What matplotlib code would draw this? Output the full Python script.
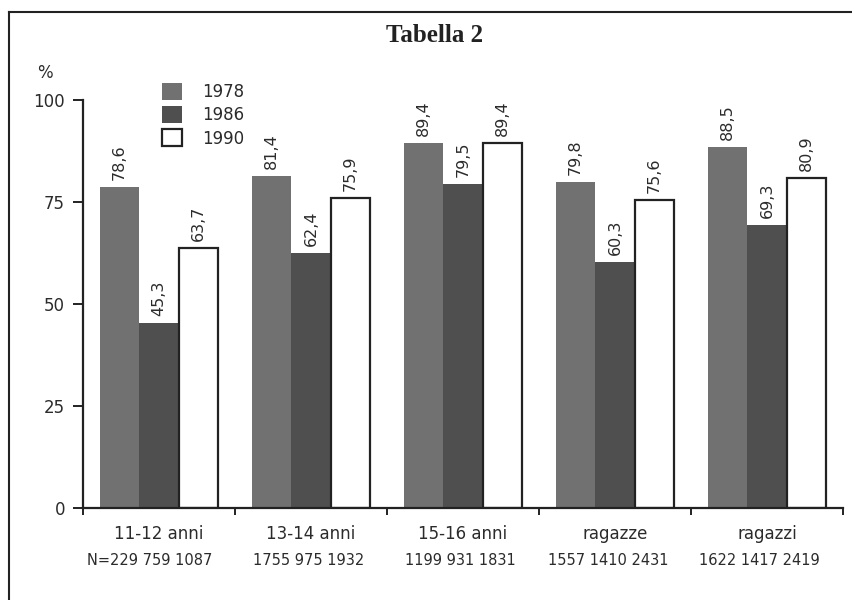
import matplotlib.pyplot as plt
import numpy as np
from matplotlib.lines import Line2D

categorie = ['11-12 anni', '13-14 anni', '15-16 anni', 'ragazze', 'ragazzi']
anni = ['1978', '1986', '1990']
v1978 = [78.6, 81.4, 89.4, 79.8, 88.5]
v1986 = [45.3, 62.4, 79.5, 60.3, 69.3]
v1990 = [63.7, 75.9, 89.4, 75.6, 80.9]
numerosita = ['N=229 759 1087', '1755 975 1932', '1199 931 1831',
              '1557 1410 2431', '1622 1417 2419']
yticks = [0, 25, 50, 75, 100]

colori = ['#717171', '#4f4f4f', 'white']
testo = '#2b2b2b'
font = 'DejaVu Sans'

fig = plt.figure(figsize=(8.52, 6), dpi=100)
ax = fig.add_axes([83/852, 1-508/600, 760/852, 408/600])

x = np.arange(len(categorie))
w = 0.26
serie = [v1978, v1986, v1990]
barre = []
for i, (vals, c) in enumerate(zip(serie, colori)):
    b = ax.bar(x + (i-1)*w, vals, w, color=c, edgecolor='#222222' if c == 'white' else c,
               linewidth=1.6 if c == 'white' else 0, label=anni[i])
    barre.append(b)
    for xi, v in zip(x + (i-1)*w, vals):
        ax.annotate(f'{v:.1f}'.replace('.', ','), (xi, v), xytext=(0, 5),
                    textcoords='offset points', rotation=90, ha='center', va='bottom',
                    fontsize=11.5, color=testo, family=font)

ax.set_xlim(-0.5, len(categorie) - 0.5)
ax.set_ylim(0, 100)
ax.set_yticks(yticks)
ax.set_yticklabels([str(t) for t in yticks], fontsize=12, color=testo, family=font)
ax.set_xticks(np.arange(len(categorie) + 1) - 0.5)
ax.set_xticklabels([])
ax.set_xticks(x, minor=True)
ax.set_xticklabels(categorie, minor=True, fontsize=12, color=testo, family=font)
ax.tick_params(axis='x', which='minor', length=0, pad=12)
ax.tick_params(axis='x', which='major', length=5, width=1.4, color='#222222')
ax.tick_params(axis='y', length=7, width=1.4, color='#222222', pad=6)
for s in ['top', 'right']:
    ax.spines[s].set_visible(False)
for s in ['left', 'bottom']:
    ax.spines[s].set_linewidth(1.6)
    ax.spines[s].set_color('#222222')

for xi, n in zip(x, numerosita):
    ax.text(xi + 0.35, -0.128, n, transform=ax.get_xaxis_transform(), ha='right',
            va='center', fontsize=10.5, color=testo, family=font)

ax.text(-0.05, 1.066, '%', transform=ax.transAxes, fontsize=12, color=testo,
        family=font, ha='center', va='center')

leg = ax.legend(handles=barre, loc='upper left', bbox_to_anchor=(0.093, 1.062),
                frameon=False, fontsize=12, borderpad=0, handlelength=1.2,
                handleheight=1.2, handletextpad=1.2, labelspacing=0.3)
for t in leg.get_texts():
    t.set_color(testo)
    t.set_family(font)

fig.text(435/852, 1-35/600, 'Tabella 2', ha='center', va='center', fontsize=18,
         fontweight='bold', family='Liberation Serif', color='#222222')

# cornice della pagina
fig.add_artist(Line2D([9/852, 9/852], [0, 1-12/600], color='#222222', lw=1.5))
fig.add_artist(Line2D([9/852, 1], [1-12/600, 1-12/600], color='#222222', lw=1.5))

fig.savefig('out.png', dpi=100)
